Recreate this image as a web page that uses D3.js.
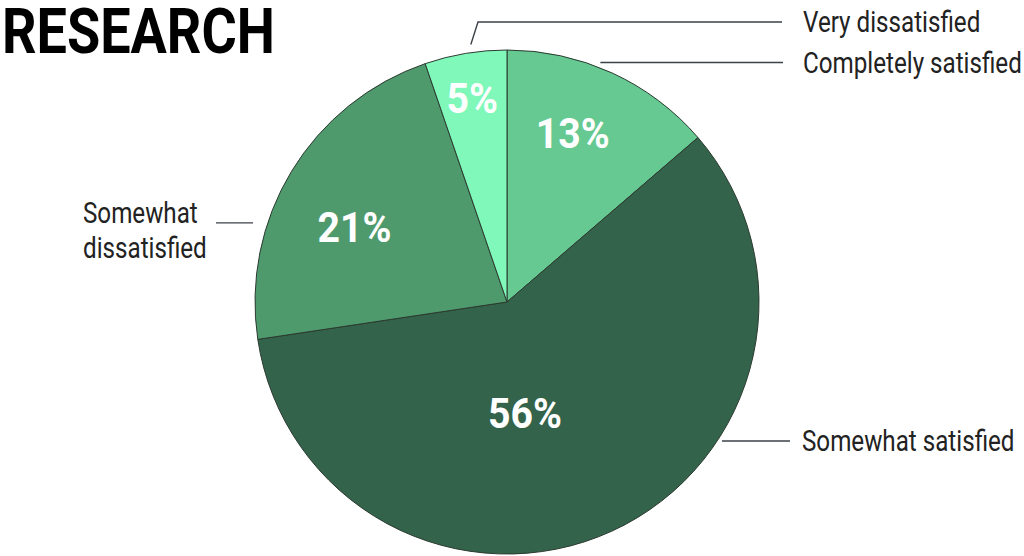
<!DOCTYPE html>
<html>
<head>
<meta charset="utf-8">
<script src="https://cdn.jsdelivr.net/npm/d3@7"></script>
<style>
  html, body { margin: 0; padding: 0; background: #fff; }
  svg { display: block; }
  .cond { font-family: Roboto, "Liberation Sans", sans-serif; }
</style>
</head>
<body>
<svg id="chart" width="1024" height="556"></svg>
<script>
// ---- data ----
const categories = ["Completely satisfied", "Somewhat satisfied", "Somewhat dissatisfied", "Very dissatisfied"];
const values = [13, 56, 21, 5];
const valueLabels = ["13%", "56%", "21%", "5%"];
const colors = ["#66C991", "#33634A", "#4F9A6D", "#80F8BA"];
const title = "RESEARCH";

// ---- layout ----
const cx = 507, cy = 302, R = 252;
const svg = d3.select("#chart");

// condense helper: horizontally scale text group about anchor x
function condense(sel, x, y, k) {
  sel.attr("transform", `translate(${x},${y}) scale(${k},1)`);
}

// title
const titleT = svg.append("text")
  .attr("class", "cond")
  .attr("font-size", 63).attr("font-weight", "bold")
  .attr("fill", "#000")
  .text(title);
{
  const w = titleT.node().getComputedTextLength();
  condense(titleT, 2, 53, 273 / w);
}

const pie = d3.pie().sort(null).value(d => d)
  .startAngle(0).endAngle(2 * Math.PI);
const arcs = pie(values);
const arc = d3.arc().innerRadius(0).outerRadius(R);

const g = svg.append("g").attr("transform", `translate(${cx},${cy})`);
g.selectAll("path.slice").data(arcs).enter().append("path")
  .attr("class", "slice")
  .attr("d", arc)
  .attr("fill", (d, i) => colors[i])
  .attr("stroke", "#2b3a30")
  .attr("stroke-width", 1);

// polar helper (angle in degrees clockwise from top)
const polar = (deg, r) => {
  const a = deg * Math.PI / 180;
  return [r * Math.sin(a), -r * Math.cos(a)];
};

// percentage labels
const valuePos = [[21.3, 181], [170.8, 112], [296.3, 170], [350.3, 207]];
const vals = g.selectAll("text.val").data(arcs).enter().append("text")
  .attr("class", "cond val")
  .attr("text-anchor", "middle")
  .attr("dy", "0.36em")
  .attr("font-size", 42).attr("font-weight", "bold")
  .attr("fill", "#fff")
  .text((d, i) => valueLabels[i]);
const kVal = 74 / vals.filter((d, i) => i === 1).node().getComputedTextLength();
vals.attr("transform", (d, i) => {
  const p = polar(valuePos[i][0], valuePos[i][1]);
  return `translate(${p[0]},${p[1]}) scale(${kVal},1)`;
});

// leader lines and category labels
const lineColor = "#3c4148";
const labelColor = "#222";
const leaders = [
  { start: [21.3, 257], pts: [[783, null]], tx: 803, ty: 73 },
  { start: [122.9, 256], pts: [[790, null]], tx: 802, ty: 451 },
  { start: [287.3, 266], pts: [[216, null]], tx: 83, ty: 223 },
  { start: [352, 260], pts: [[478, 22], [782, 22]], tx: 803, ty: 32 }
];
const catLines = [["Completely satisfied"], ["Somewhat satisfied"], ["Somewhat", "dissatisfied"], ["Very dissatisfied"]];

const labelTexts = [];
leaders.forEach((L, i) => {
  const s = polar(L.start[0], L.start[1]);
  const p0 = [cx + s[0], cy + s[1]];
  const pts = [p0];
  L.pts.forEach(p => pts.push([p[0], p[1] === null ? p0[1] : p[1]]));
  svg.append("path")
    .attr("d", d3.line()(pts))
    .attr("fill", "none")
    .attr("stroke", lineColor)
    .attr("stroke-width", 1.4);
  const t = svg.append("text")
    .attr("class", "cond")
    .attr("font-size", 29)
    .attr("fill", labelColor);
  catLines[i].forEach((ln, k) => {
    t.append("tspan").attr("x", 0).attr("dy", k === 0 ? 0 : 35).text(ln);
  });
  labelTexts.push({ t, L });
});
const kLab = 219 / labelTexts[0].t.node().getComputedTextLength();
labelTexts.forEach(({ t, L }) => condense(t, L.tx, L.ty, kLab));
</script>
</body>
</html>
